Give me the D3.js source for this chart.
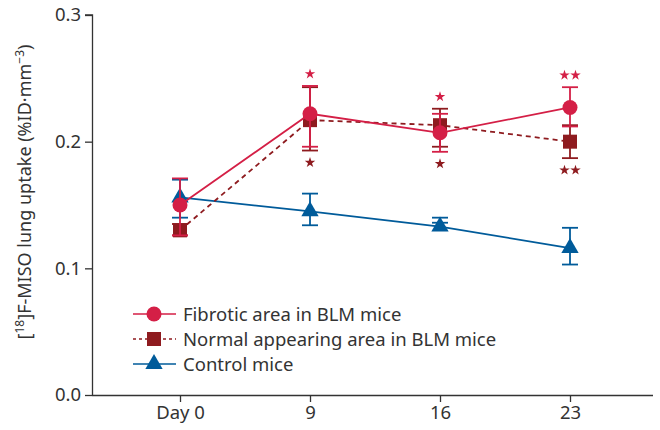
<!DOCTYPE html>
<html>
<head>
<meta charset="utf-8">
<script src="https://cdn.jsdelivr.net/npm/d3@7"></script>
<style>
  body { margin: 0; background: #fff; }
  text { font-family: "Noto Sans", sans-serif; fill: #333; }
</style>
</head>
<body>
<svg id="chart" width="660" height="430"></svg>
<script>
// categories on the x axis
const days = ['Day 0', '9', '16', '23'];
const yTicks = [0.0, 0.1, 0.2, 0.3];

// series: mean, upper error, lower error
const fibrotic = [0.150, 0.222, 0.207, 0.227];
const fibroticHi = [0.171, 0.244, 0.222, 0.243];
const fibroticLo = [0.126, 0.196, 0.192, 0.212];

const normal = [0.130, 0.217, 0.213, 0.200];
const normalHi = [0.135, 0.243, 0.226, 0.213];
const normalLo = [0.126, 0.193, 0.196, 0.187];

const control = [0.156, 0.145, 0.133, 0.116];
const controlHi = [0.170, 0.159, 0.140, 0.132];
const controlLo = [0.140, 0.134, 0.136, 0.103];

// significance marks: stars above (fibrotic) and below (normal appearing)
const starsFibrotic = [0, 1, 1, 2];
const starsNormal = [0, 1, 1, 2];

const svg = d3.select('#chart');
const margin = {left: 92, right: 7, top: 15, bottom: 35};
const width = 660, height = 430;

const x = d3.scalePoint()
  .domain(days)
  .range([180, 570]);

const y = d3.scaleLinear()
  .domain([0, 0.3])
  .range([height - margin.bottom, margin.top]);

const red = '#d41f46';
const darkRed = '#8e1b1f';
const blue = '#005b9a';

// axes
const yAxis = svg.append('g')
  .attr('transform', 'translate(' + margin.left + ',0)')
  .call(d3.axisLeft(y).tickValues(yTicks).tickFormat(d3.format('.1f')).tickSize(7).tickPadding(4));
const xAxis = svg.append('g')
  .attr('transform', 'translate(0,' + (height - margin.bottom) + ')')
  .call(d3.axisBottom(x).tickSize(7).tickPadding(4));
xAxis.select('.domain').attr('d', 'M' + margin.left + ',0.5H' + (width - margin.right));
yAxis.select('.domain').attr('d', 'M-7,' + y(0.3) + 'H0.5V' + y(0));
[xAxis, yAxis].forEach(a => {
  a.selectAll('path, line').attr('stroke', '#333').attr('stroke-width', 1.3);
  a.selectAll('text').style('font-size', '18.5px').attr('fill', '#333');
});

// y label
const yl = svg.append('text')
  .attr('transform', 'translate(31,' + 192 + ') rotate(-90)')
  .attr('text-anchor', 'middle')
  .style('font-size', '18px');
yl.append('tspan').text('[');
yl.append('tspan').text('18').style('font-size', '12px').attr('dy', -7);
yl.append('tspan').text(']F-MISO lung uptake (%ID\u00b7mm').attr('dy', 7);
yl.append('tspan').text('\u22123').style('font-size', '12px').attr('dy', -7);
yl.append('tspan').text(')').attr('dy', 7);

const line = d3.line().x((d, i) => x(days[i])).y(d => y(d));

function errorBars(mean, hi, lo, color) {
  const g = svg.append('g');
  days.forEach((d, i) => {
    g.append('line').attr('x1', x(d)).attr('x2', x(d))
      .attr('y1', y(hi[i])).attr('y2', y(lo[i]))
      .attr('stroke', color).attr('stroke-width', 1.8);
    [hi[i], lo[i]].forEach(v => {
      g.append('line').attr('x1', x(d) - 8).attr('x2', x(d) + 8)
        .attr('y1', y(v)).attr('y2', y(v))
        .attr('stroke', color).attr('stroke-width', 1.8);
    });
  });
}

// control
errorBars(control, controlHi, controlLo, blue);
svg.append('path').datum(control).attr('d', line)
  .attr('fill', 'none').attr('stroke', blue).attr('stroke-width', 1.8);
svg.selectAll('.tri').data(control).join('path')
  .attr('transform', (d, i) => 'translate(' + x(days[i]) + ',' + y(d) + ')')
  .attr('d', d3.symbol().type(d3.symbolTriangle).size(130))
  .attr('fill', blue);

// normal appearing
errorBars(normal, normalHi, normalLo, darkRed);
svg.append('path').datum(normal).attr('d', line)
  .attr('fill', 'none').attr('stroke', darkRed).attr('stroke-width', 1.8)
  .attr('stroke-dasharray', '5,4');
svg.selectAll('.sq').data(normal).join('rect')
  .attr('x', (d, i) => x(days[i]) - 7).attr('y', d => y(d) - 7)
  .attr('width', 14).attr('height', 14)
  .attr('fill', darkRed);

// fibrotic
errorBars(fibrotic, fibroticHi, fibroticLo, red);
svg.append('path').datum(fibrotic).attr('d', line)
  .attr('fill', 'none').attr('stroke', red).attr('stroke-width', 1.8);
svg.selectAll('.ci').data(fibrotic).join('circle')
  .attr('cx', (d, i) => x(days[i])).attr('cy', d => y(d))
  .attr('r', 7.5).attr('fill', red);

// stars
const star = d3.symbol().type(d3.symbolStar).size(34);
function drawStars(n, cx, cy, color) {
  for (let k = 0; k < n; k++) {
    const sx = cx + (k - (n - 1) / 2) * 11;
    svg.append('path').attr('transform', 'translate(' + sx + ',' + cy + ')')
      .attr('d', star).attr('fill', color);
  }
}
days.forEach((d, i) => {
  drawStars(starsFibrotic[i], x(d), y(d3.max([fibroticHi[i], normalHi[i]])) - 12, red);
  drawStars(starsNormal[i], x(d), y(d3.min([fibroticLo[i], normalLo[i]])) + 12, darkRed);
});

// legend
const legend = [
  {name: 'Fibrotic area in BLM mice', color: red, shape: 'circle', dash: null},
  {name: 'Normal appearing area in BLM mice', color: darkRed, shape: 'square', dash: '3,3'},
  {name: 'Control mice', color: blue, shape: 'triangle', dash: null}
];
legend.forEach((l, i) => {
  const ly = 314 + i * 25;
  const g = svg.append('g').attr('transform', 'translate(0,' + ly + ')');
  g.append('line').attr('x1', 133).attr('x2', 176).attr('y1', 0).attr('y2', 0)
    .attr('stroke', l.color).attr('stroke-width', 1.5).attr('stroke-dasharray', l.dash);
  if (l.shape === 'circle') {
    g.append('circle').attr('cx', 154).attr('cy', 0).attr('r', 7.5).attr('fill', l.color);
  } else if (l.shape === 'square') {
    g.append('rect').attr('x', 147).attr('y', -7).attr('width', 14).attr('height', 14).attr('fill', l.color);
  } else {
    g.append('path').attr('transform', 'translate(154,0)')
      .attr('d', d3.symbol().type(d3.symbolTriangle).size(130)).attr('fill', l.color);
  }
  g.append('text').attr('x', 183).attr('y', 6.5).style('font-size', '18.5px').text(l.name);
});
</script>
</body>
</html>
